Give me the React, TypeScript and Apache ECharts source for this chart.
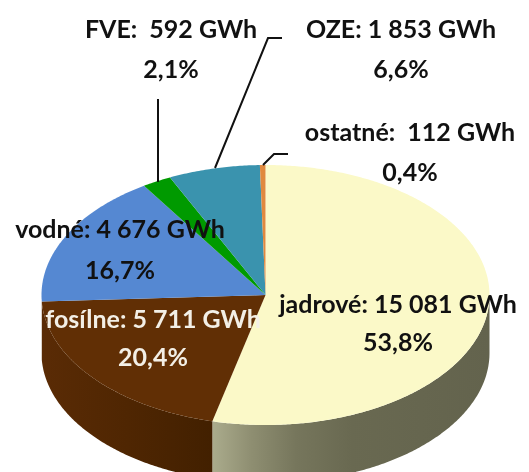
import React, { useEffect, useRef } from "react";
import * as echarts from "echarts";

const categories = ["jadrové", "fosílne", "vodné", "FVE", "OZE", "ostatné"];
const gwhValues = [15081, 5711, 4676, 592, 1853, 112];
const gwhLabels = ["15 081", "5 711", "4 676", "592", "1 853", "112"];
const percentLabels = ["53,8%", "20,4%", "16,7%", "2,1%", "6,6%", "0,4%"];
const separators = [": ", ": ", ": ", ":  ", ": ", ":  "];
const topColors = ["#fbf9c8", "#612f05", "#5588d2", "#009a00", "#3a93ae", "#e0893f"];
const textColors = ["#111", "#f3efe6", "#111", "#111", "#111", "#111"];
const labelPositions = [
  [398, 303, 341],
  [153, 318, 356],
  [120, 228, 269],
  [171, 28, 68],
  [401, 28, 68],
  [410, 131, 171],
];
const leaderLines = [
  [[158, 99], [158, 182]],
  [[215, 168], [268, 38], [282, 38]],
  [[263, 165], [274, 154], [288, 154]],
];

const CX = 265.5;
const CY = 295;
const RX = 224;
const RY = 130;
const DEPTH = 58;

const sideFills: any[] = [
  {
    type: "linear", global: true, x: 213, y: 0, x2: 490, y2: 0,
    colorStops: [
      { offset: 0, color: "#aaab8c" },
      { offset: 0.14, color: "#8e8e71" },
      { offset: 0.3, color: "#76765c" },
      { offset: 0.5, color: "#696951" },
      { offset: 1, color: "#63634d" },
    ],
  },
  {
    type: "linear", global: true, x: 42, y: 0, x2: 213, y2: 0,
    colorStops: [
      { offset: 0, color: "#5a2b05" },
      { offset: 0.5, color: "#4f2602" },
      { offset: 1, color: "#422000" },
    ],
  },
];

const total = gwhValues.reduce((a, b) => a + b, 0);

function rim(a0: number, a1: number, dy: number) {
  const pts: number[][] = [];
  const n = Math.max(2, Math.ceil((a1 - a0) / 0.01));
  for (let i = 0; i <= n; i++) {
    const a = a0 + ((a1 - a0) * i) / n;
    pts.push([CX + RX * Math.sin(a), CY - RY * Math.cos(a) + dy]);
  }
  return pts;
}

function renderSlice(params: any, api: any) {
  const idx = params.dataIndex;
  let before = 0;
  for (let i = 0; i < idx; i++) before += gwhValues[i];
  const a0 = (before / total) * Math.PI * 2;
  const a1 = a0 + (api.value(0) / total) * Math.PI * 2;
  const children: any[] = [];
  const s0 = Math.max(a0, Math.PI / 2);
  const s1 = Math.min(a1, (Math.PI * 3) / 2);
  if (s1 > s0 && sideFills[idx]) {
    children.push({
      type: "polygon",
      shape: { points: [...rim(s0, s1, 0), ...rim(s0, s1, DEPTH).reverse()] },
      style: { fill: sideFills[idx], stroke: null },
    });
  }
  children.push({
    type: "polygon",
    shape: { points: [[CX, CY], ...rim(a0, a1, 0)] },
    style: { fill: topColors[idx], stroke: null },
  });
  return { type: "group", children };
}

export default function App() {
  const ref = useRef<HTMLDivElement>(null);
  useEffect(() => {
    const chart = echarts.init(ref.current!, undefined, { renderer: "svg" });
    const font = { fontFamily: "Lato", fontWeight: 700, fontSize: 25 };
    const texts: any[] = [];
    categories.forEach((c, i) => {
      const [x, y1, y2] = labelPositions[i];
      texts.push({
        type: "text", x, y: y1, z: 10,
        style: { ...font, text: `${c}${separators[i]}${gwhLabels[i]} GWh`, fill: textColors[i], align: "center", verticalAlign: "middle" },
      });
      texts.push({
        type: "text", x, y: y2, z: 10,
        style: { ...font, text: percentLabels[i], fill: textColors[i], align: "center", verticalAlign: "middle" },
      });
    });
    const lines = leaderLines.map((points) => ({
      type: "polyline", z: 9,
      shape: { points },
      style: { stroke: "#111", lineWidth: 2, fill: null },
    }));
    chart.setOption({
      animation: false,
      backgroundColor: "#ffffff",
      series: [
        {
          type: "custom",
          coordinateSystem: "none",
          name: "GWh",
          data: gwhValues.map((v, i) => ({ name: categories[i], value: [v] })),
          renderItem: renderSlice,
          silent: true,
        },
      ],
      graphic: [...lines, ...texts],
    });
    return () => chart.dispose();
  }, []);
  return (
    <div
      ref={ref}
      style={{ position: "absolute", left: 0, top: 0, width: 529, height: 472, overflow: "hidden", filter: "blur(0.6px)" }}
    />
  );
}
